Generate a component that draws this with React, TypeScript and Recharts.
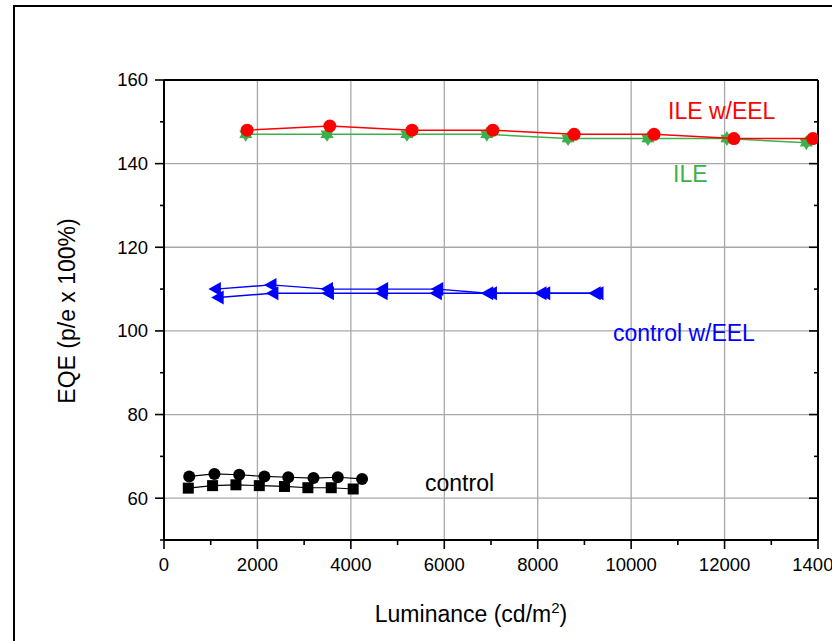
import { ScatterChart, Scatter, XAxis, YAxis, CartesianGrid } from "recharts";

// luminance (cd/m2) and EQE (%)
const ileEelLum = [1780, 3550, 5310, 7040, 8780, 10490, 12200, 13890];
const ileEelEqe = [148, 149, 148, 148, 147, 147, 146, 146];
const ileLum = [1750, 3490, 5200, 6910, 8650, 10360, 12050, 13750];
const ileEqe = [147, 147, 147, 147, 146, 146, 146, 145];
const ctrlEelLumA = [1100, 2290, 3500, 4680, 5860, 6930, 8070, 9230];
const ctrlEelEqeA = [110, 111, 110, 110, 110, 109, 109, 109];
const ctrlEelLumB = [1160, 2330, 3520, 4670, 5830, 7010, 8150, 9290];
const ctrlEelEqeB = [108, 109, 109, 109, 109, 109, 109, 109];
const ctrlLumA = [540, 1080, 1610, 2150, 2660, 3200, 3720, 4240];
const ctrlEqeA = [65.2, 65.8, 65.6, 65.2, 65.0, 64.8, 65.0, 64.6];
const ctrlLumB = [520, 1040, 1540, 2040, 2580, 3080, 3580, 4050];
const ctrlEqeB = [62.4, 63.0, 63.2, 63.0, 62.8, 62.5, 62.5, 62.2];

const xTicks = [0, 1000, 2000, 3000, 4000, 5000, 6000, 7000, 8000, 9000, 10000, 11000, 12000, 13000, 14000];
const yTicks = [50, 60, 70, 80, 90, 100, 110, 120, 130, 140, 150, 160];
const xGrid = [2000, 4000, 6000, 8000, 10000, 12000];
const yGrid = [60, 80, 100, 120, 140];

const pts = (xs: number[], ys: number[]) => xs.map((x, i) => ({ x, y: ys[i] }));

const FONT = "'Liberation Sans', Arial, sans-serif";

const BottomTick = (p: any) => {
  const v = p.payload.value;
  const major = v % 2000 === 0;
  return (
    <g>
      <line x1={p.x} y1={p.y} x2={p.x} y2={p.y + (major ? 9 : 5)} stroke="#000" strokeWidth={1.6} />
      {major && (
        <text x={p.x} y={p.y + 30.5} textAnchor="middle" fontSize={18.5} fontFamily={FONT} fill="#000">
          {v}
        </text>
      )}
    </g>
  );
};

const TopTick = (p: any) => {
  const major = p.payload.value % 2000 === 0;
  return <line x1={p.x} y1={p.y} x2={p.x} y2={p.y + (major ? 9 : 5)} stroke="#000" strokeWidth={1.6} />;
};

const LeftTick = (p: any) => {
  const v = p.payload.value;
  const major = v % 20 === 0;
  return (
    <g>
      <line x1={p.x} y1={p.y} x2={p.x - (major ? 9 : 4)} y2={p.y} stroke="#000" strokeWidth={1.6} />
      {major && (
        <text x={p.x - 16} y={p.y} dy="0.35em" textAnchor="end" fontSize={18.5} fontFamily={FONT} fill="#000">
          {v}
        </text>
      )}
    </g>
  );
};

const RightTick = (p: any) => {
  const major = p.payload.value % 20 === 0;
  return <line x1={p.x} y1={p.y} x2={p.x - (major ? 9 : 4)} y2={p.y} stroke="#000" strokeWidth={1.6} />;
};

const Dot = (color: string, r: number) => (p: any) => <circle cx={p.cx} cy={p.cy} r={r} fill={color} />;

const Square = (p: any) => <rect x={p.cx - 5.5} y={p.cy - 5.5} width={11} height={11} fill="#000" />;

const LeftTri = (p: any) => (
  <polygon
    points={`${p.cx - 7},${p.cy} ${p.cx + 5.5},${p.cy - 7} ${p.cx + 5.5},${p.cy + 7}`}
    fill="#0000ff"
  />
);

const Star6 = (p: any) => {
  const out = 7.5;
  const inn = 4.5;
  const s: string[] = [];
  for (let i = 0; i < 12; i++) {
    const a = (Math.PI / 6) * i - Math.PI / 2;
    const r = i % 2 === 0 ? out : inn;
    s.push(`${p.cx + r * Math.cos(a)},${p.cy + r * Math.sin(a)}`);
  }
  return <polygon points={s.join(" ")} fill="#3cb04a" />;
};

const axisLine = { stroke: "#000", strokeWidth: 2 };

export default function App() {
  return (
    <div style={{ position: "absolute", left: 0, top: 0, width: 832, height: 641, overflow: "hidden", background: "#fff" }}>
      <div
        style={{
          position: "absolute",
          left: 13,
          top: 5,
          width: 900,
          height: 800,
          border: "2px solid #000",
        }}
      />
      <div style={{ position: "absolute", left: 0, top: 0 }}>
        <ScatterChart width={832} height={641} margin={{ top: 80, right: 14, bottom: 100, left: 163 }}>
          <CartesianGrid
            xAxisId="x"
            yAxisId="y"
            verticalValues={xGrid}
            horizontalValues={yGrid}
            stroke="#a8a8a8"
            strokeWidth={1.3}
          />
          <XAxis
            xAxisId="x"
            dataKey="x"
            type="number"
            domain={[0, 14000]}
            ticks={xTicks}
            interval={0}
            height={1}
            tickSize={0}
            tickMargin={0}
            tickLine={false}
            tick={BottomTick}
            axisLine={axisLine}
            allowDataOverflow
          />
          <XAxis
            xAxisId="top"
            orientation="top"
            mirror
            type="number"
            domain={[0, 14000]}
            ticks={xTicks}
            interval={0}
            height={1}
            tickSize={0}
            tickMargin={0}
            tickLine={false}
            tick={TopTick}
            axisLine={axisLine}
            allowDataOverflow
          />
          <YAxis
            yAxisId="y"
            dataKey="y"
            type="number"
            domain={[50, 160]}
            ticks={yTicks}
            interval={0}
            width={1}
            tickSize={0}
            tickMargin={0}
            tickLine={false}
            tick={LeftTick}
            axisLine={axisLine}
            allowDataOverflow
          />
          <YAxis
            yAxisId="right"
            orientation="right"
            mirror
            type="number"
            domain={[50, 160]}
            ticks={yTicks}
            interval={0}
            width={1}
            tickSize={0}
            tickMargin={0}
            tickLine={false}
            tick={RightTick}
            axisLine={axisLine}
            allowDataOverflow
          />
          <Scatter
            xAxisId="x"
            yAxisId="y"
            data={pts(ctrlLumB, ctrlEqeB)}
            fill="#000"
            line={{ stroke: "#000", strokeWidth: 1.2 }}
            shape={Square}
            isAnimationActive={false}
          />
          <Scatter
            xAxisId="x"
            yAxisId="y"
            data={pts(ctrlLumA, ctrlEqeA)}
            fill="#000"
            line={{ stroke: "#000", strokeWidth: 1.2 }}
            shape={Dot("#000", 6)}
            isAnimationActive={false}
          />
          <Scatter
            xAxisId="x"
            yAxisId="y"
            data={pts(ctrlEelLumB, ctrlEelEqeB)}
            fill="#0000ff"
            line={{ stroke: "#0000ff", strokeWidth: 1.4 }}
            shape={LeftTri}
            isAnimationActive={false}
          />
          <Scatter
            xAxisId="x"
            yAxisId="y"
            data={pts(ctrlEelLumA, ctrlEelEqeA)}
            fill="#0000ff"
            line={{ stroke: "#0000ff", strokeWidth: 1.4 }}
            shape={LeftTri}
            isAnimationActive={false}
          />
          <Scatter
            xAxisId="x"
            yAxisId="y"
            data={pts(ileLum, ileEqe)}
            fill="#3cb04a"
            line={{ stroke: "#3cb04a", strokeWidth: 1.5 }}
            shape={Star6}
            isAnimationActive={false}
          />
          <Scatter
            xAxisId="x"
            yAxisId="y"
            data={pts(ileEelLum, ileEelEqe)}
            fill="#ff0000"
            line={{ stroke: "#ff0000", strokeWidth: 1.5 }}
            shape={Dot("#ff0000", 6.5)}
            isAnimationActive={false}
          />
        </ScatterChart>
      </div>
      <svg
        width={832}
        height={641}
        style={{ position: "absolute", left: 0, top: 0, pointerEvents: "none" }}
        fontFamily={FONT}
        fontSize={23}
      >
        <text x={668} y={119} fill="#ff0000">ILE w/EEL</text>
        <text x={673} y={182} fill="#3cb04a">ILE</text>
        <text x={613} y={341} fill="#0000ff">control w/EEL</text>
        <text x={425} y={491} fill="#000">control</text>
        <text x={471} y={622} textAnchor="middle" fill="#000">
          Luminance (cd/m<tspan dy={-9} fontSize={15}>2</tspan>
          <tspan dy={9}>)</tspan>
        </text>
        <text transform="translate(75,311) rotate(-90)" textAnchor="middle" fill="#000">
          EQE (p/e x 100%)
        </text>
      </svg>
    </div>
  );
}
